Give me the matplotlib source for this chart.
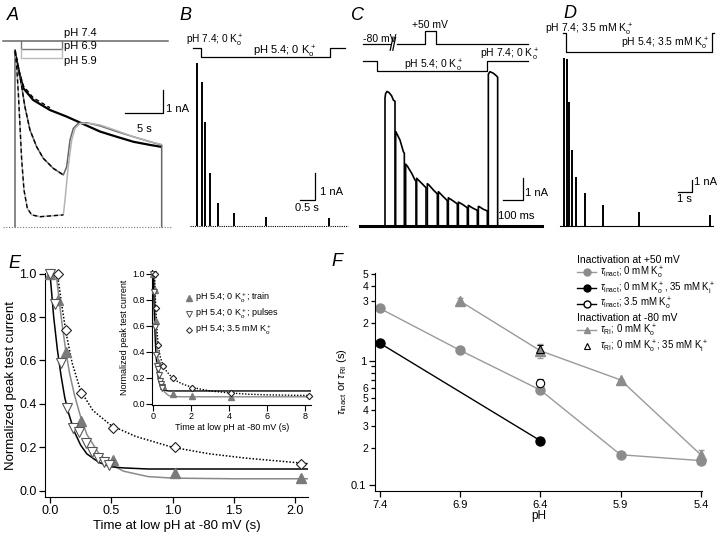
import matplotlib
matplotlib.use('Agg')
import matplotlib.pyplot as plt
from matplotlib.lines import Line2D
from matplotlib.ticker import FixedLocator, FixedFormatter

plt.rcParams['font.family'] = ['Liberation Sans', 'DejaVu Sans']
plt.rcParams['mathtext.fontset'] = 'custom'
plt.rcParams['mathtext.rm'] = 'Liberation Sans'
plt.rcParams['mathtext.it'] = 'Liberation Sans:italic'
plt.rcParams['mathtext.bf'] = 'Liberation Sans:bold'

# ---------------- data ----------------
# A: currents (nA) vs time (s) for three pH values
a_t74 = [0, 0.44, 1.1, 2.4, 4.6, 6.8, 9.0, 11.2, 13.4, 15.6, 17.8, 19.2]
a_i74 = [7.71, 6.9, 6.1, 5.58, 5.14, 4.85, 4.52, 4.19, 3.96, 3.74, 3.6, 3.52]
a_t69 = [0, 0, 0.44, 0.88, 1.3, 1.97, 2.85, 3.73, 5.04, 6.36, 6.8, 7.24, 7.67, 8.3,
         9.43, 11.2, 13.4, 15.6, 17.8, 19.3, 19.3]
a_i69 = [0, 7.71, 7.05, 6.17, 5.29, 4.26, 3.52, 3.01, 2.57, 2.28, 2.64, 3.82, 4.33, 4.55,
         4.58, 4.44, 4.19, 3.96, 3.74, 3.6, 0]
a_t59 = [0, 0.22, 0.44, 0.66, 0.88, 1.18, 1.62, 2.2, 3.29, 6.36, 6.58, 7.0, 7.46, 7.9,
         8.55, 9.87, 11.2, 13.4, 15.6, 17.8, 19.2]
a_i59 = [7.71, 7.05, 5.88, 4.41, 2.94, 1.62, 0.81, 0.52, 0.44, 0.52, 1.18, 2.64, 3.82, 4.33,
         4.55, 4.55, 4.48, 4.23, 3.96, 3.74, 3.63]
a_low_ph = [0.75, 6.14]          # time window of the low-pH application (s)

# B: peak test currents (nA) at times (s), pH 5.4, 0 K+o
b_t = [0, 0.19, 0.28, 0.44, 0.7, 1.24, 2.31, 4.41]
b_amp = [6.12, 5.4, 3.9, 1.97, 0.85, 0.48, 0.35, 0.29]
b_low_ph = [0.13, 4.44]

# C: overlaid test pulses, time (ms) and current (nA)
c_pulse_t = [[0, 3, 10, 20, 33, 42, 50],
             [53.3, 58.3, 75, 91.7, 96.7],
             [103.3, 111.7, 133.3, 150, 155],
             [158.3, 166.7, 183.3, 200, 205],
             [211.7, 220, 241.7, 258.3, 261.7],
             [266.7, 271.7, 291.7, 308.3, 311.7],
             [316.7, 321.7, 341.7, 358.3, 361.7],
             [366.7, 371.7, 391.7, 408.3, 411.7],
             [416.7, 421.7, 441.7, 458.3, 461.7],
             [466.7, 471.7, 491.7, 508.3, 511.7],
             [516.7, 525, 541.7, 558.3, 563.3]]
c_pulse_i = [[5.9, 6.1, 6.2, 6.15, 6.0, 5.8, 5.75],
             [4.35, 4.27, 3.96, 3.43, 3.35],
             [2.85, 2.76, 2.43, 2.12, 2.08],
             [2.2, 2.12, 1.97, 1.81, 1.78],
             [1.95, 1.89, 1.66, 1.51, 1.49],
             [1.58, 1.54, 1.35, 1.2, 1.18],
             [1.3, 1.27, 1.15, 1.04, 1.02],
             [1.1, 1.08, 0.97, 0.86, 0.85],
             [0.95, 0.92, 0.81, 0.74, 0.73],
             [0.9, 0.89, 0.77, 0.71, 0.7],
             [7.0, 7.11, 7.04, 6.91, 6.85]]
c_step = [200, 255]              # +50 mV step (ms)
c_low_ph = [-38, 508]

# D: peak test currents (nA) at times (s), pH 5.4, 3.5 mM K+o
d_t = [0, 0.25, 0.375, 0.58, 0.9, 1.6, 2.96, 5.66, 11.0]
d_amp = [14.4, 14.25, 10.6, 6.5, 4.2, 2.79, 1.79, 1.22, 0.94]
d_low_ph = [0.15, 11.1]

# E: normalized peak test current vs time at low pH (s)
e_train_t = [0.0, 0.064, 0.128, 0.256, 0.512, 1.024, 2.048, 4.096]
e_train_v = [1.0, 0.88, 0.64, 0.32, 0.14, 0.08, 0.058, 0.055]
e_pulse_t = [0.0, 0.04, 0.09, 0.14, 0.19, 0.24, 0.29, 0.34, 0.39, 0.44, 0.48]
e_pulse_v = [1.0, 0.86, 0.59, 0.38, 0.29, 0.27, 0.22, 0.18, 0.15, 0.13, 0.12]
e_dia_t = [0.064, 0.128, 0.256, 0.512, 1.024, 2.048, 4.096, 8.192]
e_dia_v = [1.0, 0.74, 0.45, 0.29, 0.2, 0.125, 0.085, 0.065]
# fitted curves
e_fit_pulse_t = [0.0, 0.03, 0.06, 0.09, 0.12, 0.15, 0.2, 0.25, 0.3, 0.35, 0.4, 0.5, 0.6, 0.8, 1.0, 8.3]
e_fit_pulse_v = [1.0, 0.8, 0.65, 0.53, 0.43, 0.36, 0.27, 0.21, 0.17, 0.15, 0.13, 0.11, 0.105, 0.1, 0.1, 0.1]
e_fit_train_t = [0.05, 0.08, 0.1, 0.13, 0.16, 0.2, 0.25, 0.3, 0.4, 0.5, 0.6, 0.8, 1.0, 1.5, 8.3]
e_fit_train_v = [1.0, 0.85, 0.76, 0.64, 0.54, 0.44, 0.34, 0.26, 0.17, 0.12, 0.09, 0.065, 0.058, 0.055, 0.055]
e_fit_dia_t = [0.06, 0.1, 0.13, 0.18, 0.25, 0.35, 0.5, 0.7, 1.0, 1.3, 1.6, 2.1, 3.0, 4.0, 5.0, 6.0, 8.2]
e_fit_dia_v = [1.0, 0.84, 0.73, 0.59, 0.46, 0.37, 0.3, 0.25, 0.2, 0.17, 0.15, 0.125, 0.1, 0.085, 0.075, 0.07, 0.065]

# F: time constants (s) vs pH
f_ph = [7.4, 6.9, 6.4, 5.9, 5.4]
f_inact_0k = [2.63, 1.21, 0.58, 0.175, 0.157]
f_inact_0k_err = [0, 0, 0.03, 0, 0.008]
f_ph_35ki = [7.4, 6.4]
f_inact_35ki = [1.38, 0.227]
f_ph_35ko = [6.4]
f_inact_35ko = [0.66]
f_inact_35ko_err = [0.05]
f_ph_ri = [6.9, 6.4, 5.9, 5.4]
f_ri_0k = [3.01, 1.2, 0.70, 0.175]
f_ri_0k_err = [0.2, 0.15, 0.0, 0.017]
f_ph_ri35 = [6.4]
f_ri_35ki = [1.25]
f_ri_35ki_err = [0.08]
f_ticks = [7.4, 6.9, 6.4, 5.9, 5.4]

KO = r'K$^+_{\rm o}$'
KI = r'K$^+_{\rm i}$'

W, H = 720, 537
fig = plt.figure(figsize=(7.2, 5.37), dpi=100)


def px_axes(x0, y0, x1, y1):
    return fig.add_axes([x0 / W, 1 - y1 / H, (x1 - x0) / W, (y1 - y0) / H])


def trace_axes(x0, y0, x1, y1, ox, oy, sx, sy):
    # axes whose data units map to sx, sy pixels per unit, origin at pixel (ox, oy)
    ax = px_axes(x0, y0, x1, y1)
    ax.set_xlim((x0 - ox) / sx, (x1 - ox) / sx)
    ax.set_ylim((oy - y1) / sy, (oy - y0) / sy)
    ax.axis('off')
    return ax


def scale_bar(ax, x, y, dx, dy, xlab, ylab, xl_pos, yl_pos, fs=8):
    ax.plot([x - dx, x, x], [y, y, y + dy], color='k', lw=0.9)
    ax.text(xl_pos[0], xl_pos[1], xlab, ha='center', va='center', fontsize=fs)
    ax.text(yl_pos[0], yl_pos[1], ylab, ha='left', va='center', fontsize=fs)


for lab, x, y in [('A', 13, 15), ('B', 185, 15), ('C', 357, 15), ('D', 570, 14),
                  ('E', 14, 263), ('F', 337, 262)]:
    fig.text(x / W, 1 - y / H, lab, fontsize=13, style='italic', ha='center', va='center')

# ---------------- A ----------------
axA = trace_axes(0, 20, 180, 240, 15, 226.7, 7.6, 22.7)
axA.plot([-1.6, 20.7], [0, 0], color='#777', lw=0.8, ls=(0, (1, 1.5)))
axA.plot([-1.6, 20.1], [8.19, 8.19], color='#666', lw=1.1)
axA.plot([a_low_ph[0], a_low_ph[0], a_low_ph[1], a_low_ph[1]], [8.19, 7.81, 7.81, 8.19],
         color='#777', lw=1)
axA.plot([a_low_ph[0], a_low_ph[0], a_low_ph[1], a_low_ph[1]], [7.81, 7.42, 7.42, 7.81],
         color='#bbb', lw=1)
axA.text(6.45, 8.53, 'pH 7.4', fontsize=8, va='center')
axA.text(6.45, 7.97, 'pH 6.9', fontsize=8, va='center')
axA.text(6.45, 7.31, 'pH 5.9', fontsize=8, va='center')
axA.plot(a_t74, a_i74, color='k', lw=1.6)
axA.plot(a_t69, a_i69, color='#666', lw=1.1)
axA.plot(a_t59, a_i59, color='#b4b4b4', lw=1.1)
axA.plot(a_t74[:5], [v + 0.1 for v in a_i74[:5]], color='k', lw=1, ls=(0, (3, 2)))
axA.plot(a_t69[1:10], a_i69[1:10], color='k', lw=1, ls=(0, (3, 2)))
axA.plot(a_t59[:10], a_i59[:10], color='k', lw=1, ls=(0, (3, 2)))
scale_bar(axA, 19.5, 5.0, 5, 1, '5 s', '1 nA', (17.0, 4.3), (19.85, 5.2))

# ---------------- B ----------------
axB = trace_axes(180, 20, 355, 240, 196.7, 226, 30, 26.7)
axB.plot([-0.22, 5.05], [0, 0], color='k', lw=0.8, ls=(0, (1, 1)))
axB.plot([-0.11, b_low_ph[0], b_low_ph[0], b_low_ph[1], b_low_ph[1], 4.94],
         [6.66, 6.66, 6.32, 6.32, 6.66, 6.66], color='k', lw=0.9)
axB.vlines(b_t, 0, b_amp, color='k', lw=1.4)
axB.text(-0.34, 6.95, 'pH 7.4; 0 ' + KO, fontsize=7.3, va='center')
axB.text(1.87, 6.52, 'pH 5.4; 0 ' + KO, fontsize=8, va='center')
scale_bar(axB, 3.94, 0.97, 0.5, 1, '0.5 s', '1 nA', (3.67, 0.67), (4.1, 1.27))

# ---------------- C ----------------
axC = trace_axes(355, 20, 545, 240, 385, 226, 0.2, 21.7)
axC.plot([-125, 783], [0, 0], color='k', lw=2.2)
for ts, cur in zip(c_pulse_t, c_pulse_i):
    axC.plot([ts[0]] + ts + [ts[-1]], [0] + cur + [0], color='k', lw=1.2)
axC.plot([-108, 25], [8.39, 8.39], color='k', lw=0.9)
axC.plot([60, c_step[0], c_step[0], c_step[1], c_step[1], 717],
         [8.39, 8.39, 9.0, 9.0, 8.39, 8.39], color='k', lw=0.9)
for tb in (33, 46):
    axC.plot([tb - 7, tb + 7], [8.1, 8.7], color='k', lw=0.9)
axC.plot([-108, c_low_ph[0], c_low_ph[0], c_low_ph[1], c_low_ph[1], 717],
         [7.62, 7.62, 7.12, 7.12, 7.62, 7.62], color='k', lw=0.9)
axC.text(-112, 8.62, '-80 mV', fontsize=7.5, va='center')
axC.text(225, 9.28, '+50 mV', fontsize=7.5, va='center', ha='center')
axC.text(245, 7.36, 'pH 5.4; 0 ' + KO, fontsize=7.5, va='center', ha='center')
axC.text(473, 7.9, 'pH 7.4; 0 ' + KO, fontsize=7.5, va='center')
scale_bar(axC, 691.7, 1.2, 100, 1, '100 ms', '1 nA', (658, 0.45), (700, 1.52))

# ---------------- D ----------------
axD = trace_axes(545, 20, 720, 240, 564, 226, 13.3, 11.7)
axD.plot([-0.3, 11.2], [0, 0], color='k', lw=0.8)
axD.plot([-0.05, d_low_ph[0], d_low_ph[0], d_low_ph[1], d_low_ph[1], 11.25],
         [16.47, 16.47, 14.85, 14.85, 16.47, 16.47], color='k', lw=0.9)
axD.vlines(d_t, 0, d_amp, color='k', lw=1.4)
axD.text(-1.45, 16.75, 'pH 7.4; 3.5 mM ' + KO, fontsize=7.5, va='center')
axD.text(10.9, 15.6, 'pH 5.4; 3.5 mM ' + KO, fontsize=7.5, va='center', ha='right')
scale_bar(axD, 9.6, 2.93, 1, 1, '1 s', '1 nA', (9.06, 2.35), (9.77, 3.73))

# ---------------- E ----------------
GRAY_TRI = '#7a7a7a'


def draw_e(ax, ms_scale, lw):
    ax.plot(e_fit_train_t, e_fit_train_v, color='#8a8a8a', lw=lw)
    ax.plot(e_fit_pulse_t, e_fit_pulse_v, color='k', lw=lw)
    ax.plot(e_fit_dia_t, e_fit_dia_v, color='k', lw=lw, ls=(0, (1, 1.2)))
    ax.plot(e_train_t, e_train_v, ls='none', marker='^', color=GRAY_TRI,
            ms=7 * ms_scale, clip_on=False, zorder=4)
    ax.plot(e_pulse_t, e_pulse_v, ls='none', marker='v', mfc='white', mec='#555',
            mew=0.8, ms=7 * ms_scale, clip_on=False, zorder=4)
    ax.plot(e_dia_t, e_dia_v, ls='none', marker='D', mfc='white', mec='#222',
            mew=0.8, ms=5 * ms_scale, clip_on=False, zorder=4)


axE = px_axes(45, 273, 308, 497)
draw_e(axE, 1.0, 1.1)
axE.set_xlim(-0.041, 2.106)
axE.set_ylim(-0.029, 1.003)
axE.spines[['top', 'right']].set_visible(False)
axE.set_xticks([0, 0.5, 1.0, 1.5, 2.0])
axE.set_xticklabels(['0.0', '0.5', '1.0', '1.5', '2.0'])
axE.set_yticks([0, 0.2, 0.4, 0.6, 0.8, 1.0])
axE.set_yticklabels(['0.0', '0.2', '0.4', '0.6', '0.8', '1.0'])
axE.tick_params(direction='out', length=4, width=0.9, labelsize=9, pad=2)
axE.set_xlabel('Time at low pH at -80 mV (s)', fontsize=9.5, labelpad=2)
axE.set_ylabel('Normalized peak test current', fontsize=9.5, labelpad=2)

axI = px_axes(152.4, 270.1, 311, 404.6)
axI.patch.set_alpha(0)
draw_e(axI, 0.65, 1.0)
axI.set_xlim(-0.05, 8.3)
axI.set_ylim(-0.005, 1.03)
axI.spines[['top', 'right']].set_visible(False)
axI.set_xticks([0, 2, 4, 6, 8])
axI.set_yticks([0, 0.2, 0.4, 0.6, 0.8, 1.0])
axI.set_yticklabels(['0.0', '0.2', '0.4', '0.6', '0.8', '1.0'])
axI.tick_params(direction='out', length=4, width=0.8, labelsize=6.5, pad=1.5)
axI.set_xlabel('Time at low pH at -80 mV (s)', fontsize=6.5, labelpad=1)
axI.set_ylabel('Normalized peak test current', fontsize=6.5, labelpad=2)

e_handles = [Line2D([], [], ls='none', marker='^', color=GRAY_TRI, ms=4),
             Line2D([], [], ls='none', marker='v', mfc='white', mec='#555', mew=0.7, ms=4),
             Line2D([], [], ls='none', marker='D', mfc='white', mec='#222', mew=0.7, ms=3)]
e_labels = ['pH 5.4; 0 ' + KO + '; train', 'pH 5.4; 0 ' + KO + '; pulses',
            'pH 5.4; 3.5 mM ' + KO]
fig.legend(e_handles, e_labels, loc='upper left', bbox_to_anchor=(186 / W, 1 - 291 / H),
           frameon=False, fontsize=6.5, handlelength=0.7, handletextpad=0.3,
           borderpad=0, borderaxespad=0, labelspacing=0.2)

# ---------------- F ----------------
GRAY = '#8c8c8c'
LGRAY = '#9a9a9a'
axF = px_axes(375, 272.7, 701.7, 490.7)
axF.set_yscale('log')
axF.errorbar(f_ph, f_inact_0k, yerr=f_inact_0k_err, color=LGRAY, lw=1, marker='o',
             mfc=GRAY, mec=GRAY, ms=6.5, capsize=2, elinewidth=0.8, clip_on=False)
axF.errorbar(f_ph_ri, f_ri_0k, yerr=f_ri_0k_err, color=LGRAY, lw=1, marker='^',
             mfc=GRAY, mec=GRAY, ms=6.5, capsize=2, elinewidth=0.8, clip_on=False)
axF.plot(f_ph_35ki, f_inact_35ki, color='k', lw=1, marker='o', ms=6.5, clip_on=False)
axF.errorbar(f_ph_35ko, f_inact_35ko, yerr=f_inact_35ko_err, ls='none', marker='o',
             mfc='white', mec='k', mew=0.8, ms=6, ecolor='k', capsize=2, elinewidth=0.8)
axF.errorbar(f_ph_ri35, f_ri_35ki, yerr=f_ri_35ki_err, ls='none', marker='^',
             mfc='none', mec='k', mew=0.8, ms=6, ecolor='k', capsize=2, elinewidth=0.8)
axF.set_xlim(7.431, 5.394)
axF.set_ylim(0.0899, 5.1)
axF.spines[['top', 'right']].set_visible(False)
axF.set_xticks(f_ticks)
axF.set_xticklabels([str(v) for v in f_ticks])
axF.yaxis.set_major_locator(FixedLocator([0.1, 1]))
axF.yaxis.set_major_formatter(FixedFormatter(['0.1', '1']))
minor = [0.2, 0.3, 0.4, 0.5, 0.6, 0.7, 0.8, 0.9, 2, 3, 4, 5]
axF.yaxis.set_minor_locator(FixedLocator(minor))
axF.yaxis.set_minor_formatter(FixedFormatter(['2', '3', '4', '5', '6', '', '', '',
                                              '2', '3', '4', '5']))
axF.tick_params(which='both', direction='out', width=0.9, labelsize=8, pad=2)
axF.tick_params(which='major', length=4.5)
axF.tick_params(which='minor', length=3, labelsize=7.5)
axF.set_xlabel('pH', fontsize=8.5, labelpad=0)
axF.set_ylabel(r'$\tau_{\rm inact}$ or $\tau_{\rm RI}$ (s)', fontsize=8, labelpad=1)

h_a = [Line2D([], [], color=LGRAY, lw=1, marker='o', mfc=GRAY, mec=GRAY, ms=5),
       Line2D([], [], color='k', lw=1, marker='o', ms=5),
       Line2D([], [], color='k', lw=1, marker='o', mfc='white', mec='k', ms=5)]
l_a = [r'$\tau_{\rm inact}$; 0 mM ' + KO,
       r'$\tau_{\rm inact}$; 0 mM ' + KO + ', 35 mM ' + KI,
       r'$\tau_{\rm inact}$; 3.5 mM ' + KO]
h_b = [Line2D([], [], color=LGRAY, lw=1, marker='^', mfc=GRAY, mec=GRAY, ms=5),
       Line2D([], [], ls='none', marker='^', mfc='none', mec='k', mew=0.8, ms=5)]
l_b = [r'$\tau_{\rm RI}$; 0 mM ' + KO,
       r'$\tau_{\rm RI}$; 0 mM ' + KO + '; 35 mM ' + KI]
leg_kw = dict(loc='upper left', frameon=False, fontsize=7, title_fontsize=7.5,
              handlelength=2.0, handletextpad=0.4, borderpad=0, borderaxespad=0,
              labelspacing=-0.05, alignment='left')
leg1 = fig.legend(h_a, l_a, title='Inactivation at +50 mV',
                  bbox_to_anchor=(577 / W, 1 - 255 / H), **leg_kw)
leg2 = fig.legend(h_b, l_b, title='Inactivation at -80 mV',
                  bbox_to_anchor=(577 / W, 1 - 313 / H), **leg_kw)

fig.savefig('out.png', dpi=100)
